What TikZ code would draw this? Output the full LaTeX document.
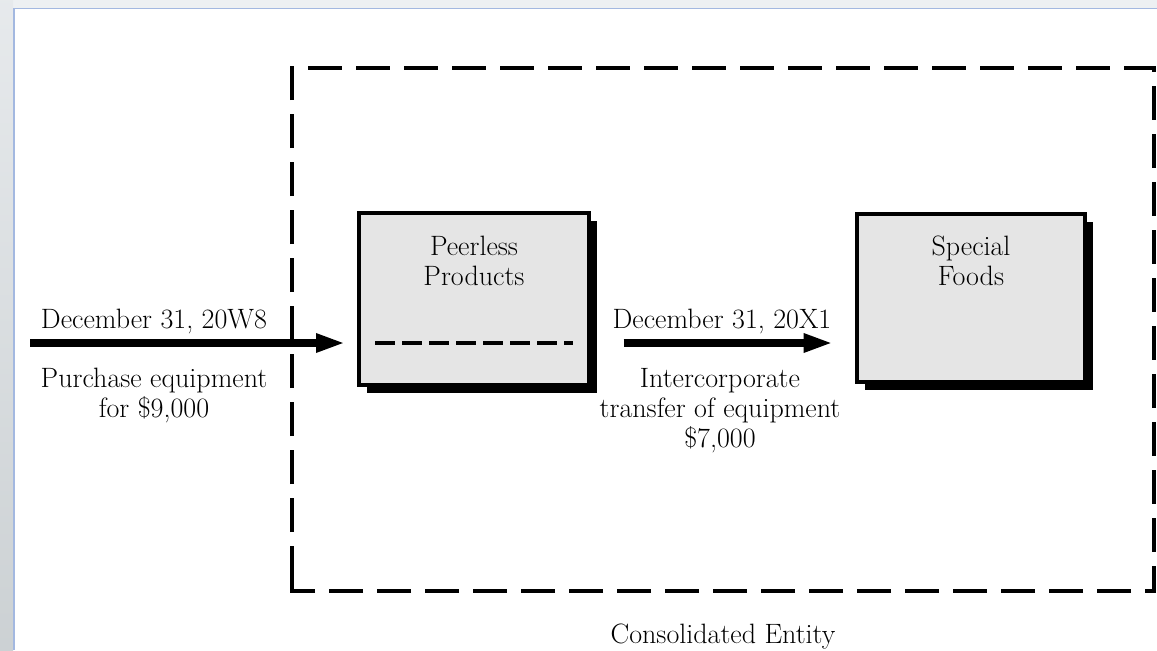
\documentclass[tikz,border=0pt]{standalone}
\usetikzlibrary{arrows.meta,positioning,shadows}
\definecolor{boxgray}{rgb}{0.90,0.90,0.90}
\definecolor{framegray}{rgb}{0.80,0.82,0.83}
\definecolor{framelight}{rgb}{0.93,0.94,0.95}
\definecolor{frameblue}{rgb}{0.64,0.72,0.88}

\begin{document}
\begin{tikzpicture}[
  x=0.75pt, y=-0.75pt,
  >={Triangle[length=22pt,width=13pt]},
  every node/.style={font=\fontsize{21}{22.5}\selectfont, inner sep=0pt},
  entity/.style={rectangle, draw=black, line width=3pt, fill=boxgray,
    drop shadow={shadow xshift=6pt, shadow yshift=-6pt, fill=black, opacity=1}},
  bigarrow/.style={->, line width=6pt},
  consbox/.style={line width=3pt, dash pattern=on 25.5pt off 10.5pt},
  splitline/.style={line width=3pt, dash pattern=on 15pt off 5.25pt},
  caption/.style={align=center, anchor=base},
]
\useasboundingbox (0,0) rectangle (1157,650);
\clip (0,0) rectangle (1157,650);

% ---- window frame ----
\fill[framelight] (0,0) rectangle (1157,8);
\shade[top color=framelight!80!framegray, bottom color=framegray] (0,0) rectangle (13,650);
\draw[frameblue, line width=1.2pt] (14,650) -- (14,8.5) -- (1157,8.5);

% ---- consolidated entity ----
\draw[consbox] (292,580) -- (292,68) -- (1154,68) -- (1154,591) -- (292,591) -- cycle;
\node[caption] (cons) at (723,643) {Consolidated Entity};

% ---- the two companies ----
\node[entity, minimum width=172pt, minimum height=129pt] (pp) at (474,299) {};
\node[entity, minimum width=171pt, minimum height=126pt] (sf) at (971,298) {};
% (base of a two-line caption = baseline of its last line)
\node[caption] (pptext) at (474,285) {Peerless\\Products};
\node[caption] (sftext) at (971,285) {Special\\Foods};
\draw[splitline] (375,343) -- (573,343);

% ---- purchase ----
\coordinate (buy) at (30,343);
\draw[bigarrow, shorten >=9pt] (buy) -- (buy -| pp.west);
\node[caption] (buydate) at (154,328) {December 31, 20W8};
\node[caption] (buytext) at (154,417) {Purchase equipment\\for \$9,000};

% ---- transfer ----
\draw[bigarrow, shorten <=24.75pt, shorten >=16.5pt] (buy -| pp.east) -- (buy -| sf.west);
\node[caption] (movedate) at (722,328) {December 31, 20X1};
\node[caption] (movetext) at (720,447) {Intercorporate\\transfer of equipment\\\$7,000};

\end{tikzpicture}
\end{document}
